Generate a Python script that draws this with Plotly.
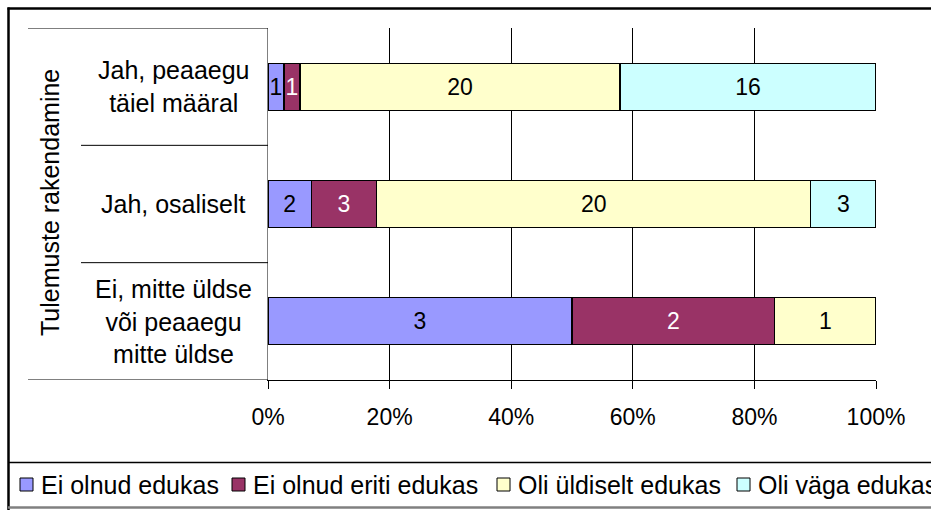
import plotly.graph_objects as go

# ---------------- data ----------------
categories = [
    "Jah, peaaegu täiel määral",
    "Jah, osaliselt",
    "Ei, mitte üldse või peaaegu mitte üldse",
]
category_labels = [
    "Jah, peaaegu<br>täiel määral",
    "Jah, osaliselt",
    "Ei, mitte üldse<br>või peaaegu<br>mitte üldse",
]
series_names = ["Ei olnud edukas", "Ei olnud eriti edukas", "Oli üldiselt edukas", "Oli väga edukas"]
ei_olnud_edukas = [1, 2, 3]
ei_olnud_eriti_edukas = [1, 3, 2]
oli_yldiselt_edukas = [20, 20, 1]
oli_vaga_edukas = [16, 3, 0]
x_tick_values = [0, 20, 40, 60, 80, 100]
x_tick_labels = ["0%", "20%", "40%", "60%", "80%", "100%"]
axis_title = "Tulemuste rakendamine"

# ---------------- style ----------------
series_values = [ei_olnud_edukas, ei_olnud_eriti_edukas, oli_yldiselt_edukas, oli_vaga_edukas]
series_colors = ["#9999FF", "#993366", "#FFFFCC", "#CCFFFF"]
label_colors = ["#000000", "#FFFFFF", "#000000", "#000000"]
FONT = "Liberation Sans, Arial, sans-serif"

W, H = 931, 510
L, R, T, B = 268, 876, 28, 380


def px_x(px):
    return (px - L) / (R - L)


def px_y(py):
    return (B - py) / (B - T)


fig = go.Figure()
for name, vals, col, tcol in zip(series_names, series_values, series_colors, label_colors):
    fig.add_trace(go.Bar(
        y=categories,
        x=vals,
        name=name,
        orientation="h",
        marker=dict(color=col, line=dict(color="#000000", width=1.2)),
        text=[str(v) if v else "" for v in vals],
        textposition="inside",
        insidetextanchor="middle",
        textangle=0,
        constraintext="none",
        insidetextfont=dict(family=FONT, size=23, color=tcol),
        width=0.4,
        showlegend=False,
        hoverinfo="skip",
    ))

shapes = []
# outer chart border (top and left edges; the chart continues past the right/bottom edge)
shapes.append(dict(type="line", xref="paper", yref="paper",
                   x0=px_x(7.5), x1=px_x(960), y0=px_y(8.5), y1=px_y(8.5),
                   line=dict(color="#000000", width=2.5), layer="above"))
shapes.append(dict(type="line", xref="paper", yref="paper",
                   x0=px_x(8.5), x1=px_x(8.5), y0=px_y(7.5), y1=px_y(530),
                   line=dict(color="#000000", width=2.5), layer="above"))
# legend box lines
shapes.append(dict(type="line", xref="paper", yref="paper",
                   x0=px_x(8), x1=px_x(960), y0=px_y(462.5), y1=px_y(462.5),
                   line=dict(color="#000000", width=1.5)))
shapes.append(dict(type="line", xref="paper", yref="paper",
                   x0=px_x(8), x1=px_x(960), y0=px_y(507.5), y1=px_y(507.5),
                   line=dict(color="#808080", width=2.5)))
# multi-level category axis lines
n = len(categories)
for i in range(n + 1):
    edge = (i == 0 or i == n)
    shapes.append(dict(type="line", xref="paper", yref="y",
                       x0=px_x(28 if edge else 81), x1=0, y0=i - 0.5, y1=i - 0.5,
                       line=dict(color="#000000", width=1)))

annotations = []
for cat, lab in zip(categories, category_labels):
    annotations.append(dict(xref="paper", yref="y", x=px_x(173.5), y=cat, text=lab,
                            showarrow=False, align="center", xanchor="center", yanchor="middle",
                            font=dict(family=FONT, size=25, color="#000000")))
annotations.append(dict(xref="paper", yref="paper", x=px_x(50), y=px_y(203), text=axis_title,
                        textangle=-90, showarrow=False, xanchor="center", yanchor="middle",
                        font=dict(family=FONT, size=25, color="#000000")))

# legend (drawn manually in Excel style)
legend_marker_x = [20, 232, 497, 737]
for name, col, mx in zip(series_names, series_colors, legend_marker_x):
    shapes.append(dict(type="rect", xref="paper", yref="paper",
                       x0=px_x(mx), x1=px_x(mx + 13), y0=px_y(478), y1=px_y(491),
                       line=dict(color="#000000", width=1), fillcolor=col))
    annotations.append(dict(xref="paper", yref="paper", x=px_x(mx + 19), y=px_y(484.5), text=name,
                            showarrow=False, xanchor="left", yanchor="middle",
                            font=dict(family=FONT, size=25, color="#000000")))

fig.update_layout(
    width=W, height=H,
    margin=dict(l=L, r=W - R, t=T, b=H - B, pad=0),
    barmode="stack",
    barnorm="percent",
    plot_bgcolor="#FFFFFF",
    paper_bgcolor="#FFFFFF",
    font=dict(family=FONT, size=23, color="#000000"),
    shapes=shapes,
    annotations=annotations,
    showlegend=False,
)
fig.update_xaxes(
    range=[0, 100],
    tickvals=x_tick_values,
    ticktext=x_tick_labels,
    showgrid=True, gridcolor="#000000", gridwidth=1,
    showline=True, linecolor="#000000", linewidth=1,
    ticks="outside", ticklen=8, tickcolor="#000000",
    ticklabelstandoff=8,
    tickfont=dict(family=FONT, size=23, color="#000000"),
    zeroline=False,
    fixedrange=True,
)
fig.update_yaxes(
    categoryorder="array", categoryarray=categories,
    range=[n - 0.5, -0.5],
    showticklabels=False,
    showgrid=False, zeroline=False,
    showline=True, linecolor="#808080", linewidth=1,
    ticks="",
    fixedrange=True,
)

fig.write_html(
    "out.html",
    config={"displayModeBar": False},
    post_script=(
        "document.body.style.margin='0px';"
        "document.body.style.overflow='hidden';"
        "document.documentElement.style.overflow='hidden';"
    ),
)
